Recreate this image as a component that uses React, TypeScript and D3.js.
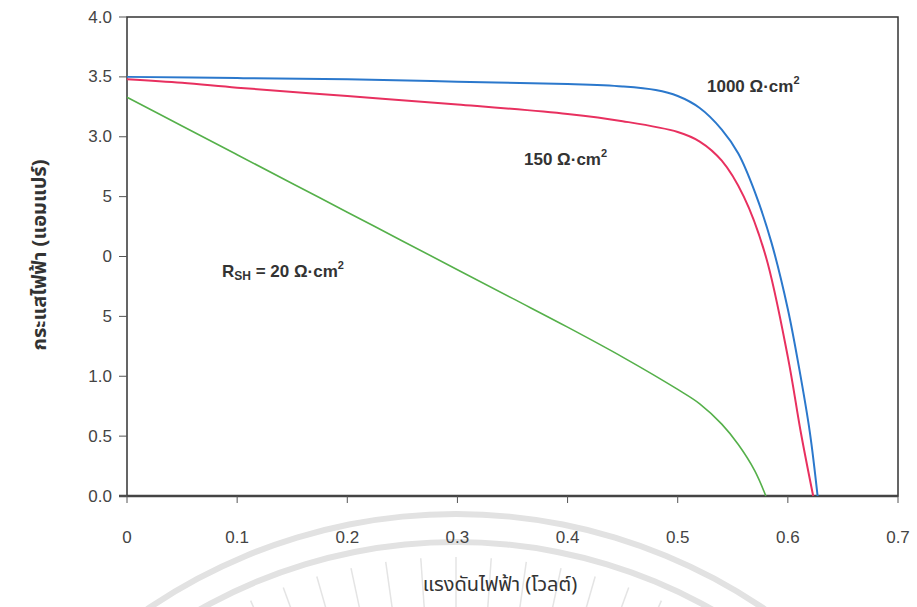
import * as d3 from 'd3';

// voltage (V) / current (A) readings for each shunt resistance
const v1000 = [0, 0.1, 0.2, 0.3, 0.4, 0.45, 0.48, 0.5, 0.52, 0.54, 0.555, 0.57, 0.585, 0.6, 0.61, 0.62, 0.627];
const i1000 = [3.5, 3.49, 3.48, 3.46, 3.44, 3.42, 3.39, 3.34, 3.24, 3.06, 2.86, 2.54, 2.12, 1.56, 1.08, 0.53, 0];

const v150 = [0, 0.05, 0.1, 0.2, 0.3, 0.4, 0.45, 0.5, 0.52, 0.54, 0.56, 0.58, 0.6, 0.612, 0.623];
const i150 = [3.48, 3.45, 3.41, 3.34, 3.27, 3.19, 3.13, 3.04, 2.96, 2.8, 2.5, 2.0, 1.16, 0.52, 0];

const v20 = [0, 0.05, 0.1, 0.15, 0.2, 0.25, 0.3, 0.35, 0.4, 0.45, 0.5, 0.52, 0.54, 0.555, 0.57, 0.58];
const i20 = [3.33, 3.09, 2.85, 2.61, 2.37, 2.13, 1.89, 1.65, 1.41, 1.16, 0.89, 0.77, 0.6, 0.43, 0.21, 0];

const xTicks = [0, 0.1, 0.2, 0.3, 0.4, 0.5, 0.6, 0.7];
const xTickLabels = ['0', '0.1', '0.2', '0.3', '0.4', '0.5', '0.6', '0.7'];
const yTicks = [0, 0.5, 1, 1.5, 2, 2.5, 3, 3.5, 4];
// labels as they appear on the scanned page
const yTickLabels = ['0.0', '0.5', '1.0', '5', '0', '5', '3.0', '3.5', '4.0'];

const series = [
  { v: v1000, i: i1000, color: '#2b78cc', width: 2 },
  { v: v150, i: i150, color: '#e8305f', width: 2 },
  { v: v20, i: i20, color: '#55b04a', width: 1.6 },
];

export default function App() {
  const W = 917;
  const H = 607;
  const x = d3.scaleLinear().domain([0, 0.7]).range([127, 898]);
  const y = d3.scaleLinear().domain([0, 4]).range([496, 17]);

  const line = d3.line<[number, number]>()
    .x(d => x(d[0]))
    .y(d => y(d[1]))
    .curve(d3.curveCatmullRom.alpha(0.5));

  const font = 'Arial, "Liberation Sans", sans-serif';
  const thai = '"Noto Sans Thai", "Noto Sans", "DejaVu Sans", sans-serif';

  // faint watermark arcs near the bottom
  const arc = d3.arc();
  const cx = 456;
  const cy = 1062;
  const rings = [548, 520];
  const rays = d3.range(-24, 25, 4);

  return (
    <svg width={W} height={H} style={{ position: 'absolute', left: 0, top: 0, background: '#fff' }}>
      <g>
        {rings.map(r => (
          <path
            key={r}
            transform={`translate(${cx},${cy})`}
            d={arc({ innerRadius: r - 3, outerRadius: r + 3, startAngle: -Math.PI / 2, endAngle: Math.PI / 2 }) || ''}
            fill="#e2e2e2"
          />
        ))}
        {rays.map(a => {
          const t = (a * Math.PI) / 180;
          return (
            <line
              key={a}
              x1={cx + Math.sin(t) * 505}
              y1={cy - Math.cos(t) * 505}
              x2={cx + Math.sin(t) * 440}
              y2={cy - Math.cos(t) * 440}
              stroke="#e4e4e4"
              strokeWidth={1.5}
            />
          );
        })}
      </g>

      {/* plot frame */}
      <rect x={x(0)} y={y(4)} width={x(0.7) - x(0)} height={y(0) - y(4)} fill="none" stroke="#333" strokeWidth={1.5} />
      <line x1={x(0) - 8} x2={x(0.7)} y1={y(0)} y2={y(0)} stroke="#444" strokeWidth={2.5} />

      {/* y ticks */}
      {yTicks.map((t, k) => (
        <g key={t}>
          <line x1={x(0) - 8} x2={x(0)} y1={y(t)} y2={y(t)} stroke="#555" strokeWidth={1} />
          <text x={112} y={y(t)} textAnchor="end" dominantBaseline="central" fontSize={17} fontFamily={font} fill="#444">
            {yTickLabels[k]}
          </text>
        </g>
      ))}

      {/* x ticks */}
      {xTicks.map((t, k) => (
        <g key={t}>
          <line x1={x(t)} x2={x(t)} y1={y(0)} y2={y(0) + 7} stroke="#555" strokeWidth={1} />
          <text x={x(t)} y={537} textAnchor="middle" dominantBaseline="central" fontSize={17} fontFamily={font} fill="#444">
            {xTickLabels[k]}
          </text>
        </g>
      ))}

      {series.map((s, k) => (
        <path
          key={k}
          d={line(s.v.map((v, j) => [v, s.i[j]] as [number, number])) || ''}
          fill="none"
          stroke={s.color}
          strokeWidth={s.width}
        />
      ))}

      {/* curve labels */}
      <g fontFamily={font} fontWeight="bold" fontSize={17} fill="#333">
        <text x={707} y={92}>
          1000 Ω·cm<tspan dy={-8} fontSize={11}>2</tspan>
        </text>
        <text x={524} y={165}>
          150 Ω·cm<tspan dy={-8} fontSize={11}>2</tspan>
        </text>
        <text x={222} y={277}>
          R<tspan dy={3} fontSize={12}>SH</tspan>
          <tspan dy={-3}> = 20 Ω·cm</tspan>
          <tspan dy={-8} fontSize={11}>2</tspan>
        </text>
      </g>

      {/* axis titles */}
      <text
        transform="translate(40,255) rotate(-90)"
        textAnchor="middle"
        dominantBaseline="central"
        fontFamily={thai}
        fontWeight="bold"
        fontSize={20}
        fill="#333"
      >
        กระแสไฟฟ้า (แอมแปร์)
      </text>
      <text x={500} y={585} textAnchor="middle" dominantBaseline="central" fontFamily={thai} fontSize={20} fill="#333">
        แรงดันไฟฟ้า (โวลต์)
      </text>
    </svg>
  );
}
